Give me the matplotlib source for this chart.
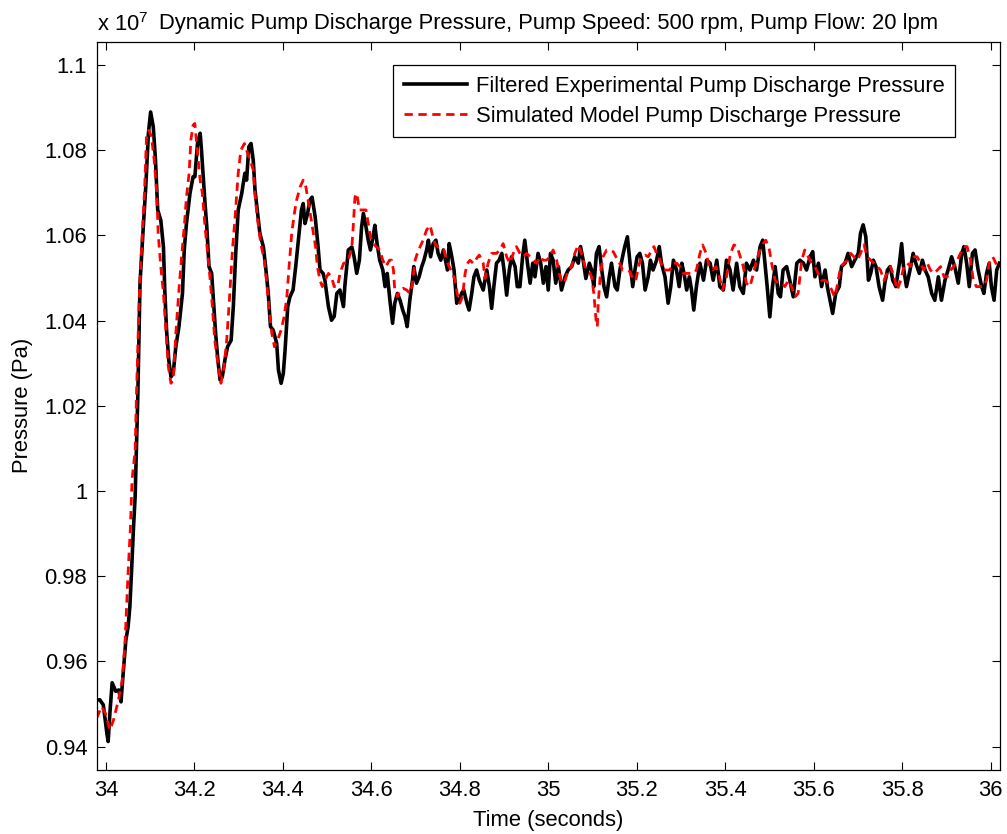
import matplotlib.pyplot as plt
from matplotlib.ticker import FuncFormatter

plt.rcParams['font.family'] = ['Liberation Sans', 'DejaVu Sans']
plt.rcParams['mathtext.default'] = 'regular'

# time in seconds, pressure in units of 1e7 Pa
exp_t = [
    33.979, 33.986, 33.994, 34.002, 34.005, 34.009, 34.014, 34.022, 34.029, 34.034,
    34.039, 34.045, 34.050, 34.054, 34.058, 34.062, 34.066, 34.069, 34.072, 34.077,
    34.084, 34.090, 34.096, 34.101, 34.107, 34.112, 34.117, 34.124, 34.130, 34.133,
    34.137, 34.142, 34.147, 34.152, 34.158, 34.165, 34.173, 34.177, 34.182, 34.190,
    34.197, 34.201, 34.207, 34.213, 34.216, 34.220, 34.224, 34.228, 34.233, 34.239,
    34.243, 34.248, 34.253, 34.258, 34.263, 34.269, 34.275, 34.283, 34.288, 34.293,
    34.299, 34.307, 34.314, 34.318, 34.323, 34.328, 34.333, 34.337, 34.342, 34.348,
    34.356, 34.361, 34.367, 34.372, 34.378, 34.386, 34.390, 34.396, 34.401, 34.405,
    34.411, 34.416, 34.423, 34.429, 34.435, 34.442, 34.446, 34.450, 34.456, 34.461,
    34.466, 34.473, 34.479, 34.484, 34.491, 34.495, 34.503, 34.510, 34.516, 34.522,
    34.529, 34.537, 34.540, 34.548, 34.556, 34.561, 34.567, 34.573, 34.578, 34.582,
    34.588, 34.593, 34.598, 34.604, 34.608, 34.613, 34.619, 34.626, 34.631, 34.636,
    34.642, 34.648, 34.653, 34.659, 34.665, 34.671, 34.676, 34.681, 34.687, 34.693,
    34.696, 34.702, 34.708, 34.714, 34.719, 34.725, 34.729, 34.734, 34.740, 34.746,
    34.751, 34.757, 34.763, 34.769, 34.772, 34.776, 34.782, 34.787, 34.793, 34.799,
    34.804, 34.809, 34.816, 34.821, 34.827, 34.832, 34.838, 34.844, 34.853, 34.861,
    34.867, 34.872, 34.877, 34.883, 34.889, 34.895, 34.900, 34.906, 34.912, 34.917,
    34.925, 34.930, 34.936, 34.942, 34.947, 34.953, 34.959, 34.965, 34.970, 34.977,
    34.983, 34.989, 34.995, 35.000, 35.005, 35.011, 35.017, 35.023, 35.030, 35.038,
    35.045, 35.053, 35.060, 35.068, 35.073, 35.079, 35.085, 35.093, 35.098, 35.103,
    35.109, 35.115, 35.121, 35.126, 35.132, 35.138, 35.143, 35.151, 35.156, 35.162,
    35.168, 35.173, 35.179, 35.185, 35.191, 35.196, 35.201, 35.207, 35.213, 35.219,
    35.226, 35.231, 35.237, 35.245, 35.251, 35.256, 35.264, 35.271, 35.277, 35.283,
    35.290, 35.296, 35.302, 35.307, 35.313, 35.319, 35.324, 35.329, 35.335, 35.343,
    35.351, 35.358, 35.366, 35.373, 35.381, 35.388, 35.396, 35.403, 35.411, 35.418,
    35.426, 35.433, 35.441, 35.448, 35.456, 35.464, 35.471, 35.479, 35.485, 35.490,
    35.495, 35.501, 35.507, 35.513, 35.520, 35.525, 35.531, 35.539, 35.546, 35.554,
    35.562, 35.569, 35.577, 35.584, 35.592, 35.598, 35.603, 35.611, 35.618, 35.626,
    35.631, 35.637, 35.643, 35.650, 35.658, 35.663, 35.671, 35.678, 35.686, 35.693,
    35.701, 35.706, 35.712, 35.718, 35.724, 35.729, 35.735, 35.741, 35.748, 35.756,
    35.761, 35.767, 35.773, 35.779, 35.786, 35.794, 35.799, 35.804, 35.810, 35.818,
    35.825, 35.831, 35.839, 35.846, 35.852, 35.859, 35.867, 35.874, 35.882, 35.889,
    35.897, 35.904, 35.912, 35.919, 35.927, 35.935, 35.940, 35.946, 35.952, 35.959,
    35.965, 35.972, 35.980, 35.985, 35.991, 35.997, 36.002, 36.008, 36.014, 36.020,
]
exp_p = [
    0.9509, 0.9510, 0.9498, 0.9432, 0.9412, 0.9480, 0.9550, 0.9530, 0.9533, 0.9505,
    0.9573, 0.9650, 0.9681, 0.9728, 0.9815, 0.9908, 0.9987, 1.0104, 1.0221, 1.0488,
    1.0613, 1.0714, 1.0840, 1.0890, 1.0855, 1.0777, 1.0660, 1.0636, 1.0573, 1.0472,
    1.0378, 1.0308, 1.0268, 1.0276, 1.0339, 1.0386, 1.0464, 1.0566, 1.0628, 1.0699,
    1.0738, 1.0738, 1.0816, 1.0840, 1.0800, 1.0738, 1.0675, 1.0620, 1.0527, 1.0511,
    1.0448, 1.0370, 1.0308, 1.0261, 1.0268, 1.0308, 1.0339, 1.0354, 1.0433, 1.0550,
    1.0660, 1.0699, 1.0746, 1.0730, 1.0808, 1.0816, 1.0777, 1.0707, 1.0660, 1.0605,
    1.0573, 1.0527, 1.0464, 1.0386, 1.0378, 1.0347, 1.0284, 1.0253, 1.0276, 1.0331,
    1.0433, 1.0456, 1.0472, 1.0527, 1.0589, 1.0660, 1.0675, 1.0628, 1.0652, 1.0683,
    1.0690, 1.0644, 1.0581, 1.0519, 1.0511, 1.0495, 1.0433, 1.0401, 1.0410, 1.0464,
    1.0472, 1.0433, 1.0480, 1.0566, 1.0573, 1.0550, 1.0511, 1.0542, 1.0620, 1.0652,
    1.0620, 1.0589, 1.0566, 1.0597, 1.0624, 1.0581, 1.0542, 1.0519, 1.0480, 1.0511,
    1.0448, 1.0394, 1.0441, 1.0464, 1.0448, 1.0425, 1.0410, 1.0386, 1.0448, 1.0495,
    1.0527, 1.0488, 1.0503, 1.0527, 1.0542, 1.0566, 1.0589, 1.0550, 1.0581, 1.0589,
    1.0558, 1.0542, 1.0566, 1.0534, 1.0519, 1.0581, 1.0550, 1.0519, 1.0441, 1.0448,
    1.0464, 1.0472, 1.0441, 1.0425, 1.0464, 1.0503, 1.0519, 1.0495, 1.0472, 1.0519,
    1.0480, 1.0429, 1.0480, 1.0535, 1.0542, 1.0558, 1.0519, 1.0460, 1.0519, 1.0550,
    1.0527, 1.0480, 1.0480, 1.0550, 1.0589, 1.0535, 1.0488, 1.0535, 1.0503, 1.0558,
    1.0535, 1.0488, 1.0527, 1.0472, 1.0558, 1.0542, 1.0488, 1.0527, 1.0472, 1.0503,
    1.0519, 1.0527, 1.0550, 1.0535, 1.0574, 1.0542, 1.0499, 1.0535, 1.0519, 1.0480,
    1.0558, 1.0574, 1.0519, 1.0480, 1.0456, 1.0503, 1.0535, 1.0480, 1.0472, 1.0519,
    1.0550, 1.0574, 1.0597, 1.0535, 1.0480, 1.0519, 1.0550, 1.0558, 1.0535, 1.0472,
    1.0503, 1.0542, 1.0519, 1.0542, 1.0574, 1.0535, 1.0503, 1.0441, 1.0480, 1.0542,
    1.0519, 1.0480, 1.0535, 1.0511, 1.0472, 1.0503, 1.0472, 1.0425, 1.0480, 1.0535,
    1.0495, 1.0542, 1.0535, 1.0495, 1.0542, 1.0480, 1.0472, 1.0542, 1.0519, 1.0472,
    1.0535, 1.0480, 1.0464, 1.0535, 1.0519, 1.0542, 1.0519, 1.0574, 1.0589, 1.0535,
    1.0480, 1.0409, 1.0480, 1.0527, 1.0464, 1.0456, 1.0519, 1.0527, 1.0495, 1.0456,
    1.0535, 1.0542, 1.0535, 1.0519, 1.0550, 1.0562, 1.0503, 1.0535, 1.0480, 1.0519,
    1.0480, 1.0448, 1.0417, 1.0464, 1.0480, 1.0527, 1.0535, 1.0558, 1.0527, 1.0542,
    1.0558, 1.0605, 1.0625, 1.0597, 1.0495, 1.0511, 1.0542, 1.0527, 1.0480, 1.0448,
    1.0488, 1.0519, 1.0527, 1.0495, 1.0480, 1.0535, 1.0581, 1.0519, 1.0480, 1.0519,
    1.0558, 1.0535, 1.0511, 1.0542, 1.0519, 1.0503, 1.0464, 1.0448, 1.0503, 1.0448,
    1.0495, 1.0519, 1.0550, 1.0527, 1.0488, 1.0558, 1.0574, 1.0535, 1.0480, 1.0558,
    1.0566, 1.0519, 1.0480, 1.0464, 1.0511, 1.0535, 1.0480, 1.0448, 1.0519, 1.0535,
]

sim_t = [
    33.979, 33.990, 33.998, 34.009, 34.017, 34.028, 34.037, 34.043, 34.050, 34.055,
    34.059, 34.066, 34.069, 34.075, 34.081, 34.087, 34.092, 34.097, 34.103, 34.109,
    34.115, 34.118, 34.124, 34.130, 34.135, 34.141, 34.147, 34.152, 34.158, 34.165,
    34.171, 34.177, 34.182, 34.188, 34.192, 34.197, 34.201, 34.207, 34.213, 34.218,
    34.224, 34.230, 34.235, 34.240, 34.246, 34.254, 34.260, 34.267, 34.273, 34.280,
    34.286, 34.292, 34.299, 34.305, 34.313, 34.318, 34.326, 34.333, 34.338, 34.344,
    34.350, 34.358, 34.363, 34.369, 34.375, 34.381, 34.388, 34.396, 34.403, 34.409,
    34.414, 34.420, 34.426, 34.431, 34.439, 34.446, 34.452, 34.457, 34.463, 34.469,
    34.474, 34.478, 34.484, 34.489, 34.495, 34.503, 34.510, 34.516, 34.524, 34.529,
    34.537, 34.548, 34.556, 34.559, 34.563, 34.567, 34.573, 34.580, 34.588,
    34.593, 34.598, 34.604, 34.612, 34.619, 34.626, 34.633, 34.641, 34.646, 34.650,
    34.653, 34.659, 34.665, 34.672, 34.680, 34.687, 34.693, 34.699, 34.704, 34.710,
    34.717, 34.725, 34.733, 34.739, 34.744, 34.751, 34.759, 34.764, 34.770, 34.776,
    34.784, 34.789, 34.794, 34.800, 34.806, 34.812, 34.817, 34.823, 34.831, 34.838,
    34.844, 34.853, 34.857, 34.864, 34.872, 34.883, 34.891, 34.898, 34.906, 34.913,
    34.921, 34.928, 34.936, 34.944, 34.951, 34.959, 34.966, 34.974, 34.981, 34.989,
    34.996, 35.004, 35.011, 35.019, 35.025, 35.030, 35.038, 35.045, 35.053, 35.060,
    35.068, 35.075, 35.083, 35.091, 35.098, 35.103, 35.108, 35.111, 35.113, 35.118,
    35.124, 35.132, 35.140, 35.147, 35.153, 35.161, 35.168, 35.177, 35.185, 35.192,
    35.198, 35.204, 35.211, 35.219, 35.226, 35.234, 35.239, 35.245, 35.253, 35.260,
    35.268, 35.275, 35.283, 35.290, 35.298, 35.305, 35.313, 35.320, 35.328, 35.335,
    35.343, 35.349, 35.357, 35.364, 35.372, 35.379, 35.387, 35.394, 35.403, 35.412,
    35.420, 35.427, 35.441, 35.448, 35.456, 35.464, 35.471, 35.479, 35.486,
    35.492, 35.500, 35.505, 35.513, 35.520, 35.528, 35.535, 35.543, 35.550, 35.558,
    35.565, 35.573, 35.580, 35.588, 35.595, 35.603, 35.610, 35.618, 35.626, 35.633,
    35.641, 35.647, 35.653, 35.661, 35.669, 35.676, 35.684, 35.691, 35.699, 35.706,
    35.714, 35.721, 35.729, 35.736, 35.744, 35.751, 35.759, 35.766, 35.774, 35.782,
    35.789, 35.797, 35.804, 35.812, 35.819, 35.827, 35.834, 35.842, 35.849, 35.857,
    35.864, 35.872, 35.880, 35.887, 35.895, 35.902, 35.910, 35.917, 35.925, 35.932,
    35.940, 35.947, 35.955, 35.961, 35.968, 35.976, 35.984, 35.991, 35.997, 36.005,
    36.012, 36.020,
]
sim_p = [
    0.9467, 0.9494, 0.9480, 0.9439, 0.9462, 0.9509, 0.9556, 0.9643, 0.9808, 0.9908,
    1.0026, 1.0096, 1.0226, 1.0448, 1.0581, 1.0699, 1.0840, 1.0847, 1.0832, 1.0777,
    1.0699, 1.0605, 1.0527, 1.0464, 1.0386, 1.0292, 1.0253, 1.0261, 1.0370, 1.0472,
    1.0550, 1.0620, 1.0690, 1.0746, 1.0824, 1.0859, 1.0863, 1.0793, 1.0730, 1.0699,
    1.0620, 1.0558, 1.0503, 1.0441, 1.0354, 1.0292, 1.0253, 1.0292, 1.0354, 1.0464,
    1.0566, 1.0644, 1.0746, 1.0800, 1.0816, 1.0800, 1.0777, 1.0754, 1.0683, 1.0628,
    1.0581, 1.0542, 1.0495, 1.0425, 1.0370, 1.0339, 1.0354, 1.0378, 1.0410, 1.0456,
    1.0527, 1.0605, 1.0652, 1.0683, 1.0714, 1.0730, 1.0714, 1.0683, 1.0644, 1.0605,
    1.0573, 1.0527, 1.0495, 1.0480, 1.0495, 1.0511, 1.0503, 1.0480, 1.0480, 1.0511,
    1.0534, 1.0542, 1.0573, 1.0620, 1.0690, 1.0699, 1.0660, 1.0660, 1.0660,
    1.0628, 1.0597, 1.0581, 1.0573, 1.0566, 1.0542, 1.0527, 1.0542, 1.0542, 1.0519,
    1.0472, 1.0456, 1.0472, 1.0476, 1.0472, 1.0464, 1.0488, 1.0542, 1.0558, 1.0573,
    1.0589, 1.0613, 1.0624, 1.0597, 1.0581, 1.0573, 1.0573, 1.0566, 1.0542, 1.0527,
    1.0511, 1.0495, 1.0464, 1.0441, 1.0456, 1.0511, 1.0534, 1.0542, 1.0534, 1.0546,
    1.0554, 1.0535, 1.0499, 1.0535, 1.0558, 1.0558, 1.0566, 1.0581, 1.0550, 1.0535,
    1.0558, 1.0574, 1.0558, 1.0550, 1.0558, 1.0550, 1.0542, 1.0535, 1.0550, 1.0542,
    1.0542, 1.0550, 1.0566, 1.0542, 1.0511, 1.0488, 1.0495, 1.0519, 1.0527, 1.0558,
    1.0578, 1.0558, 1.0527, 1.0519, 1.0503, 1.0464, 1.0402, 1.0386, 1.0441, 1.0511,
    1.0550, 1.0566, 1.0566, 1.0562, 1.0550, 1.0535, 1.0519, 1.0519, 1.0515, 1.0495,
    1.0495, 1.0527, 1.0550, 1.0554, 1.0550, 1.0566, 1.0574, 1.0558, 1.0542, 1.0519,
    1.0519, 1.0519, 1.0535, 1.0535, 1.0527, 1.0511, 1.0511, 1.0511, 1.0511, 1.0519,
    1.0558, 1.0578, 1.0558, 1.0527, 1.0519, 1.0527, 1.0503, 1.0472, 1.0503, 1.0558,
    1.0578, 1.0574, 1.0527, 1.0488, 1.0480, 1.0511, 1.0542, 1.0566, 1.0581,
    1.0589, 1.0566, 1.0535, 1.0495, 1.0488, 1.0488, 1.0480, 1.0495, 1.0480, 1.0456,
    1.0464, 1.0542, 1.0566, 1.0550, 1.0535, 1.0527, 1.0511, 1.0495, 1.0495, 1.0488,
    1.0472, 1.0456, 1.0480, 1.0527, 1.0535, 1.0542, 1.0558, 1.0550, 1.0542, 1.0558,
    1.0578, 1.0550, 1.0542, 1.0535, 1.0527, 1.0519, 1.0495, 1.0511, 1.0527, 1.0503,
    1.0472, 1.0495, 1.0527, 1.0535, 1.0527, 1.0550, 1.0550, 1.0535, 1.0519, 1.0535,
    1.0519, 1.0511, 1.0519, 1.0527, 1.0503, 1.0503, 1.0519, 1.0527, 1.0542, 1.0558,
    1.0574, 1.0574, 1.0542, 1.0495, 1.0480, 1.0480, 1.0480, 1.0495, 1.0535, 1.0550,
    1.0535, 1.0527,
]

x_ticks = [34, 34.2, 34.4, 34.6, 34.8, 35, 35.2, 35.4, 35.6, 35.8, 36]
y_ticks = [0.94, 0.96, 0.98, 1.0, 1.02, 1.04, 1.06, 1.08, 1.1]

fs = 15.8
fig = plt.figure(figsize=(10.07, 8.34), dpi=100)
ax = fig.add_axes([0.0963, 0.0767, 0.8967, 0.8733])

ax.plot(exp_t, exp_p, color='black', lw=2.6,
        label='Filtered Experimental Pump Discharge Pressure')
ax.plot(sim_t, sim_p, color='red', lw=2.0, ls=(0, (3, 2)),
        label='Simulated Model Pump Discharge Pressure')

ax.set_xlim(33.9797, 36.0213)
ax.set_ylim(0.9345, 1.1055)
ax.set_xticks(x_ticks)
ax.set_yticks(y_ticks)
fmt = FuncFormatter(lambda v, pos: '%g' % round(v, 4))
ax.xaxis.set_major_formatter(fmt)
ax.yaxis.set_major_formatter(fmt)
ax.tick_params(direction='in', top=True, right=True, length=6, width=0.8,
               labelsize=fs, pad=7)
for s in ax.spines.values():
    s.set_linewidth(0.9)

ax.set_xlabel('Time (seconds)', fontsize=fs, labelpad=7)
ax.set_ylabel('Pressure (Pa)', fontsize=fs, labelpad=8)
ax.set_title('Dynamic Pump Discharge Pressure, Pump Speed: 500 rpm, Pump Flow: 20 lpm',
             fontsize=fs, pad=9)
ax.text(0, 1.0147, r'x 10$^{7}$', transform=ax.transAxes, fontsize=fs,
        ha='left', va='baseline')

leg = ax.legend(loc='upper left', bbox_to_anchor=(0.3278, 0.968), fontsize=fs,
                fancybox=False, edgecolor='black', framealpha=1,
                handlelength=2.9, handletextpad=0.4, borderpad=0.48,
                labelspacing=0.42, borderaxespad=0)
leg.get_frame().set_linewidth(0.9)

fig.savefig('out.png', dpi=100)
